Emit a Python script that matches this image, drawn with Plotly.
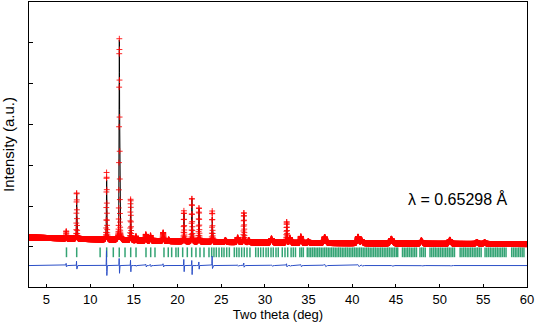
import numpy as np
import plotly.graph_objects as go

# ---- data ----
# background level (two theta in deg, intensity in a.u.)
bg_theta = [3, 6, 10, 14, 18, 22, 26, 30, 35, 40, 45, 50, 55, 60]
bg_counts = [235, 215, 190, 165, 145, 130, 118, 108, 98, 90, 84, 78, 74, 70]

# Bragg peaks: position, calculated height above background, FWHM
peak_pos = [7.27, 8.46, 11.89, 13.343, 14.64, 15.25, 16.39, 16.93, 18.37, 19.0,
            20.74, 21.653, 22.46, 23.98, 25.5, 26.9, 27.6, 28.18, 30.78, 32.5,
            32.87, 34.13, 35.0, 36.88, 40.69, 41.08, 44.51, 47.94, 51.19, 54.3, 55.2]
peak_height = [150, 1110, 1460, 4930, 980, 100, 140, 120, 190, 40,
               690, 1070, 815, 600, 50, 110, 705, 50, 95, 500,
               120, 150, 35, 130, 150, 80, 110, 75, 95, 45, 35]
peak_fwhm = [0.06, 0.06, 0.07, 0.07, 0.07, 0.08, 0.12, 0.12, 0.12, 0.1,
             0.07, 0.07, 0.07, 0.07, 0.15, 0.15, 0.08, 0.15, 0.2, 0.08,
             0.15, 0.15, 0.2, 0.25, 0.25, 0.2, 0.3, 0.25, 0.25, 0.3, 0.3]
# difference curve spikes (positive and negative lobe)
diff_up = [60, 120, 400, 200, 150, 20, 40, 30, 50, 10,
           170, 150, 100, 245, 10, 20, 70, 10, 20, 50,
           20, 30, 10, 40, 30, 20, 20, 15, 15, 10, 10]
diff_down = [40, 100, 290, 220, 170, 20, 40, 30, 40, 10,
             170, 245, 100, 100, 10, 20, 50, 10, 20, 40,
             20, 30, 10, 30, 30, 20, 20, 15, 15, 10, 10]

# reflection (Bragg tick) positions
refl_pos = [7.29, 8.46, 11.14, 11.89, 12.65, 13.33, 13.99, 14.64, 15.25, 16.39,
            16.93, 17.42, 18.45, 18.94, 19.33, 19.82, 20.09, 20.59, 21.12, 21.62,
            22.11, 22.57, 23.03, 23.6, 23.91, 24.17, 24.44, 24.75, 25.06, 25.32,
            25.63, 25.93, 26.5, 26.77, 27.04, 27.34, 27.64, 27.95, 28.29, 28.95,
            29.24, 29.52, 29.82, 30.13, 30.39, 30.7, 30.96, 31.27, 31.53, 31.99,
            32.3, 32.61, 33.0, 33.25, 33.5, 34.0, 34.2, 34.4, 34.85, 35.05,
            35.25, 35.45, 35.65, 35.85, 36.05, 36.25, 36.45, 36.65, 36.85, 37.05,
            37.25, 37.45, 37.65, 37.85, 38.05, 38.25, 38.45, 38.65, 38.85, 39.05,
            39.25, 39.45, 39.65, 39.85, 40.05, 40.25, 40.45, 40.65, 40.85, 41.05,
            41.25, 41.45, 41.65, 41.85, 42.05, 42.25, 42.45, 42.65, 42.85, 43.05,
            43.25, 43.45, 43.65, 43.85, 44.05, 44.25, 44.45, 44.65, 44.85, 45.05,
            45.2, 45.75, 45.95, 46.15, 46.35, 46.55, 46.75, 46.95, 47.15, 47.35,
            47.75, 47.95, 48.15, 48.35, 48.9, 49.1, 49.3, 49.5, 49.7, 49.9,
            50.1, 50.3, 50.5, 50.7, 50.9, 51.1, 51.3, 51.5, 51.7, 52.35,
            52.55, 52.75, 52.95, 53.15, 53.35, 53.55, 53.75, 53.95, 54.15, 54.35,
            54.55, 54.75, 55.2, 55.4, 55.6, 55.8, 56.0, 56.2, 56.4, 56.6,
            56.8, 57.0, 57.2, 57.4, 57.6, 58.25, 58.45, 58.65, 58.85, 59.05,
            59.25, 59.45, 59.65]

x_ticks = [5, 10, 15, 20, 25, 30, 35, 40, 45, 50, 55, 60]
y_ticks = [0, 1000, 2000, 3000, 4000, 5000]
diff_offset = -455
refl_level = -130
label_text = "λ = 0.65298 Å"

# ---- build profiles from the read values ----
tth = np.arange(3.0, 60.0001, 0.01)
bg = np.interp(tth, bg_theta, bg_counts)
calc = bg.copy()
diff = np.zeros_like(tth)
for p, h, w, u, d in zip(peak_pos, peak_height, peak_fwhm, diff_up, diff_down):
    dx = (tth - p) / w
    g = np.exp(-4 * np.log(2) * dx ** 2)
    lz = 1.0 / (1 + 4 * dx ** 2)
    calc += h * (0.6 * g + 0.4 * lz)
    w2 = 0.6 * w
    diff += u * np.exp(-4 * np.log(2) * ((tth - (p - 0.25 * w)) / w2) ** 2)
    diff -= d * np.exp(-4 * np.log(2) * ((tth - (p + 0.25 * w)) / w2) ** 2)
obs = calc + diff

font_family = "Liberation Sans, Arial, sans-serif"

fig = go.Figure()
fig.add_trace(go.Scatter(x=tth, y=calc, mode="lines",
                         line=dict(color="black", width=1), hoverinfo="skip"))
fig.add_trace(go.Scatter(x=tth, y=obs, mode="markers",
                         marker=dict(symbol="cross-thin", size=4.2, color="red",
                                     line=dict(color="rgba(255,0,0,0.85)", width=1))))
fig.add_trace(go.Scatter(x=refl_pos, y=[refl_level] * len(refl_pos), mode="markers",
                         marker=dict(symbol="line-ns", size=7, color="#2e9e6e",
                                     line=dict(color="#34a374", width=1.5))))
fig.add_trace(go.Scatter(x=tth, y=diff + diff_offset, mode="lines",
                         line=dict(color="#2b4fc7", width=1)))

fig.add_annotation(x=52.1, y=1169, xref="x", yref="y", text=label_text,
                   showarrow=False, font=dict(size=16, color="black", family=font_family))

fig.update_layout(
    width=536, height=325,
    margin=dict(l=29, r=9, t=2, b=38),
    paper_bgcolor="white", plot_bgcolor="white",
    showlegend=False,
    font=dict(family=font_family, color="black", size=13),
    xaxis=dict(range=[3, 60], tickvals=x_ticks, ticks="inside", ticklen=3,
               tickcolor="black", showline=True, linecolor="black", linewidth=1,
               mirror=True, showgrid=False, zeroline=False,
               tickfont=dict(size=13),
               title=dict(text="Two theta (deg)", font=dict(size=13), standoff=2)),
    yaxis=dict(range=[-980, 6000], tickvals=y_ticks, ticks="inside", ticklen=4,
               tickcolor="black", showline=True, linecolor="black", linewidth=1,
               mirror=True, showgrid=False, zeroline=False, showticklabels=False,
               title=dict(text="Intensity (a.u.)", font=dict(size=15), standoff=9)),
)

fig.write_html("out.html", config={"displayModeBar": False},
               post_script="document.body.style.margin='0';document.body.style.overflow='hidden';")
